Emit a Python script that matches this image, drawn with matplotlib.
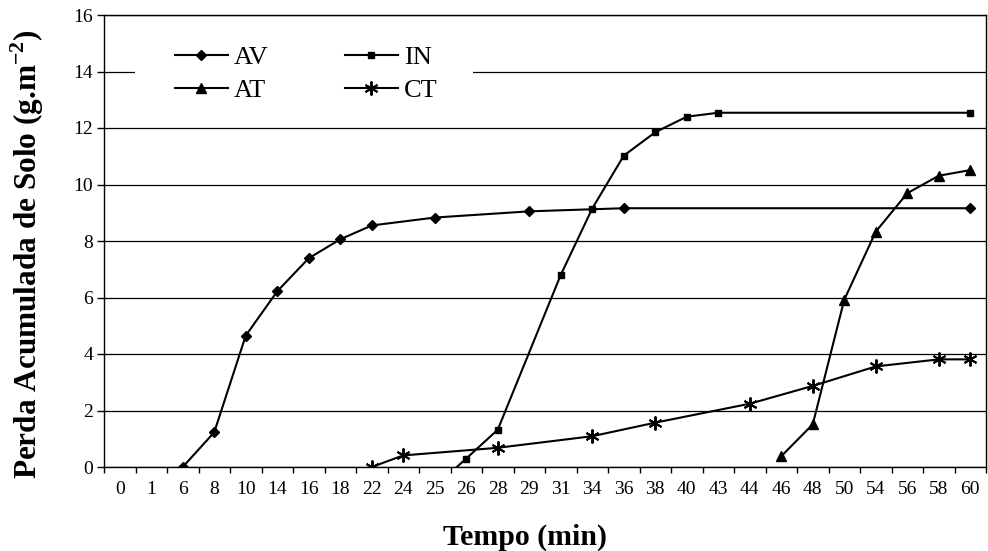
import numpy as np
import matplotlib
matplotlib.use("Agg")
import matplotlib.pyplot as plt
from matplotlib.patches import Rectangle

plt.rcParams["font.family"] = ["Liberation Serif", "DejaVu Serif"]
plt.rcParams["mathtext.fontset"] = "custom"
plt.rcParams["mathtext.rm"] = "Liberation Serif"
plt.rcParams["mathtext.bf"] = "Liberation Serif:bold"

# tempos de coleta (eixo categórico)
tempos = ["0", "1", "6", "8", "10", "14", "16", "18", "22", "24", "25", "26",
          "28", "29", "31", "34", "36", "38", "40", "43", "44", "46", "48",
          "50", "54", "56", "58", "60"]

nan = np.nan
# perda acumulada (g.m-2) por tratamento; nan = sem leitura naquele tempo
av = [nan, nan, 0.0, 1.23, 4.65, 6.22, 7.39, 8.06, 8.55, nan, 8.83, nan,
      nan, 9.05, nan, nan, 9.16, nan, nan, nan, nan, nan, nan,
      nan, nan, nan, nan, 9.16]
inn = [nan, nan, nan, nan, nan, nan, nan, nan, nan, nan, -0.7, 0.3,
       1.32, nan, 6.8, 9.15, 11.02, 11.85, 12.4, 12.54, nan, nan, nan,
       nan, nan, nan, nan, 12.54]
at = [nan, nan, nan, nan, nan, nan, nan, nan, nan, nan, nan, nan,
      nan, nan, nan, nan, nan, nan, nan, nan, nan, 0.38, 1.51,
      5.92, 8.33, 9.69, 10.31, 10.51]
ct = [nan, nan, nan, nan, nan, nan, nan, nan, 0.0, 0.41, nan, nan,
      0.68, nan, nan, 1.09, nan, 1.57, nan, nan, 2.24, nan, 2.87,
      nan, 3.56, nan, 3.81, 3.81]

series = [
    ("AV", av, dict(marker="D", markersize=5.5)),
    ("IN", inn, dict(marker="s", markersize=5)),
    ("AT", at, dict(marker="^", markersize=7)),
    ("CT", ct, dict(marker=(6, 2, 0), markersize=10, markeredgewidth=1.4)),
]

fig = plt.figure(figsize=(9.88, 5.51), dpi=100)
ax = fig.add_axes([104 / 988, 1 - 467 / 551, 882 / 988, 452 / 551])

x = np.arange(len(tempos))
handles = {}
for nome, vals, estilo in series:
    y = np.array(vals, dtype=float)
    ok = ~np.isnan(y)
    (ln,) = ax.plot(x[ok], y[ok], color="black", linewidth=1.5,
                    markerfacecolor="black", markeredgecolor="black",
                    zorder=3, **estilo)
    handles[nome] = ln

ax.set_xlim(-0.5, len(tempos) - 0.5)
ax.set_ylim(0, 16)
ax.set_yticks(np.arange(0, 17, 2))
ax.yaxis.grid(True, color="black", linewidth=0.9)
ax.set_axisbelow(True)

# marcas nos limites das categorias, rótulos no centro
ax.set_xticks(np.arange(-0.5, len(tempos)), labels=[])
ax.set_xticks(x, labels=tempos, minor=True)
ax.tick_params(axis="x", which="major", direction="out", length=4,
               width=1, color="black")
ax.tick_params(axis="x", which="minor", length=0, pad=10, labelsize=14)
ax.tick_params(axis="y", direction="out", length=5, width=1, pad=3,
               labelsize=14)
for s in ax.spines.values():
    s.set_color("black")
    s.set_linewidth(1.0)

ax.set_xlabel("Tempo (min)", fontsize=21.5, fontweight="bold")
ax.xaxis.set_label_coords(0.477, -0.125)
ax.set_ylabel(r"Perda Acumulada de Solo (g.m$^{\mathbf{-2}}$)",
              fontsize=22.5, fontweight="bold")
ax.yaxis.set_label_coords(-0.066, 0.47)

# fundo branco da legenda sobre a grade
ax.add_patch(Rectangle((0.035, 0.80), 0.383, 0.145, transform=ax.transAxes,
                       facecolor="white", edgecolor="none", zorder=2))
ax.legend([handles["AV"], handles["AT"], handles["IN"], handles["CT"]],
          ["AV", "AT", "IN", "CT"], ncol=2, frameon=False,
          loc="upper left", bbox_to_anchor=(0.0686, 0.955), fontsize=19,
          handlelength=2.0, handletextpad=0.23, columnspacing=2.9,
          labelspacing=0.35, borderaxespad=0)

fig.savefig("out.png", dpi=100)
